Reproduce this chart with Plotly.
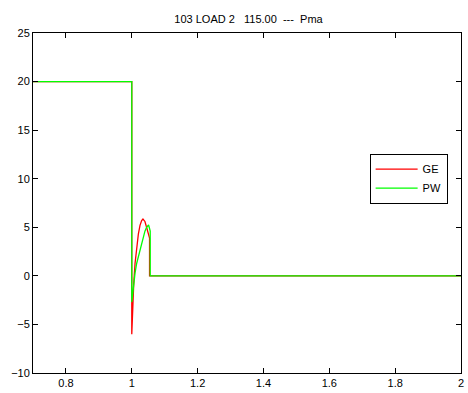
import plotly.graph_objects as go

# Pma response for bus 103 LOAD 2 (115.00 kV), two simulation programs
ge_t = [0.7, 1.0, 1.0, 1.003, 1.006, 1.010, 1.015, 1.020, 1.025, 1.030, 1.034,
        1.040, 1.045, 1.050, 1.054, 1.054, 2.0]
ge_p = [20, 20, -6.0, -3.0, -0.8, 1.3, 3.0, 4.3, 5.2, 5.7, 5.85,
        5.6, 5.0, 4.4, 3.9, 0, 0]

pw_t = [0.7, 1.0, 1.0, 1.005, 1.010, 1.015, 1.020, 1.022, 1.025, 1.030, 1.035,
        1.040, 1.045, 1.051, 1.053, 1.056, 1.056, 2.0]
pw_p = [20, 20, -2.7, -1.0, 0.3, 1.3, 2.0, 2.2, 2.6, 3.4, 4.1,
        4.6, 5.0, 5.23, 5.0, 4.6, 0, 0]

x_ticks = [0.8, 1.0, 1.2, 1.4, 1.6, 1.8, 2.0]
x_labels = ["0.8", "1", "1.2", "1.4", "1.6", "1.8", "2"]
y_ticks = [-10, -5, 0, 5, 10, 15, 20, 25]

FONT = "Liberation Sans, Arial, sans-serif"

fig = go.Figure()
fig.add_trace(go.Scatter(x=ge_t, y=ge_p, mode="lines", name="GE",
                         line=dict(color="#ff0000", width=1.3)))
fig.add_trace(go.Scatter(x=pw_t, y=pw_p, mode="lines", name="PW",
                         line=dict(color="#00ff00", width=1.3)))

axis_common = dict(
    showline=True, linecolor="black", linewidth=1, mirror="ticks",
    ticks="inside", ticklen=5, tickcolor="black", tickwidth=1,
    showgrid=False, zeroline=False,
    tickfont=dict(family=FONT, size=11, color="black"),
)

fig.update_layout(
    width=468, height=393,
    margin=dict(l=33, r=4, t=33, b=17),
    paper_bgcolor="white", plot_bgcolor="white",
    title=dict(text="103 LOAD 2   115.00  ---  Pma", x=0.531, xanchor="center",
               y=1 - 19 / 393, yanchor="middle",
               font=dict(family=FONT, size=11, color="black")),
    xaxis=dict(range=[0.7, 2.0], tickvals=x_ticks, ticktext=x_labels, **axis_common),
    yaxis=dict(range=[-10, 25], tickvals=y_ticks, **axis_common),
    legend=dict(x=0.7865, y=0.645, xanchor="left", yanchor="top",
                bgcolor="white", bordercolor="black", borderwidth=1,
                font=dict(family=FONT, size=11, color="black"),
                tracegroupgap=0, itemwidth=42, entrywidth=86,
                entrywidthmode="pixels"),
    showlegend=True,
)

fig.write_html("out.html")
